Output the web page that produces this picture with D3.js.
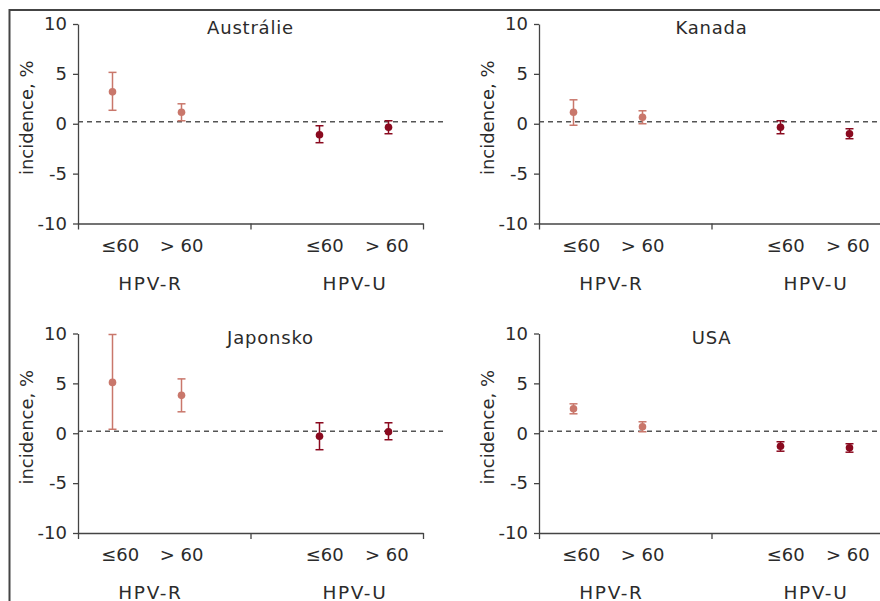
<!DOCTYPE html>
<html>
<head>
<meta charset="utf-8">
<style>
  body { margin: 0; background: #fff; }
  svg text { font-family: "DejaVu Sans", "Noto Sans", sans-serif; fill: #2b2b2b; }
</style>
</head>
<body>
<div id="chart"></div>

<script src="https://d3js.org/d3.v7.min.js"></script>
<script>
// data
var countries = ["Austrálie", "Kanada", "Japonsko", "USA"];
var ageLabels = ["≤60", "> 60", "≤60", "> 60"];
var hpvGroups = ["HPV-R", "HPV-U"];
var hpvOfPoint = ["HPV-R", "HPV-R", "HPV-U", "HPV-U"];
var yTicks = [-10, -5, 0, 5, 10];
var refValue = 0.2;

// incidence, % (mean, lower, upper) for ≤60 R, >60 R, ≤60 U, >60 U
var meanVals = [
  [3.2, 1.15, -1.1, -0.35],
  [1.15, 0.65, -0.35, -1.0],
  [5.1, 3.8, -0.3, 0.15],
  [2.45, 0.65, -1.3, -1.45]
];
var lowerVals = [
  [1.35, 0.3, -1.9, -1.0],
  [-0.15, 0.0, -1.0, -1.5],
  [0.4, 2.15, -1.65, -0.65],
  [1.95, 0.15, -1.8, -1.9]
];
var upperVals = [
  [5.15, 2.0, -0.2, 0.3],
  [2.4, 1.3, 0.3, -0.5],
  [9.9, 5.45, 1.05, 1.05],
  [2.95, 1.15, -0.85, -1.05]
];

// positions along the category axis (0..4)
var pointPos = [0.4, 1.2, 2.8, 3.6];
var labelPos = [0.49, 1.2, 2.86, 3.58];
var groupPos = [0.84, 3.21];

var colors = {"HPV-R": "#c9776b", "HPV-U": "#8a0a1f"};

var width = 880, height = 601;
var svg = d3.select("#chart").append("svg")
  .attr("width", width)
  .attr("height", height);

// outer frame (runs off the right and bottom edge)
svg.append("rect")
  .attr("x", 9.5).attr("y", 10)
  .attr("width", 900).attr("height", 700)
  .attr("fill", "none")
  .attr("stroke", "#444")
  .attr("stroke-width", 2);

var panels = [
  {left: 78, top: 24, titleDx: 0},
  {left: 539, top: 24, titleDx: 0},
  {left: 78, top: 333.5, titleDx: 20},
  {left: 539, top: 333.5, titleDx: 0}
];
var plotW = 345, plotH = 199.5;

panels.forEach(function(p, i) {
  var g = svg.append("g")
    .attr("transform", "translate(" + p.left + "," + p.top + ")");

  var x = d3.scaleLinear().domain([0, 4]).range([0, plotW]);
  var y = d3.scaleLinear().domain([-10, 10]).range([plotH, 0]);

  // y axis
  var yAx = g.append("g")
    .call(d3.axisLeft(y).tickValues(yTicks).tickSize(5).tickSizeOuter(0).tickPadding(6)
      .tickFormat(function(d) { return String(d); }));
  yAx.selectAll("text").style("font-size", "18px").attr("fill", "#2b2b2b");

  // x axis
  g.append("g")
    .attr("transform", "translate(0," + plotH + ")")
    .call(d3.axisBottom(x).tickValues([0, 2, 4]).tickSize(6).tickSizeOuter(0).tickFormat(""));

  g.selectAll(".domain, .tick line").attr("stroke", "#444").attr("stroke-width", 1.3);

  // age labels
  g.selectAll(".agelab")
    .data(ageLabels)
    .enter().append("text")
      .attr("x", function(d, j) { return x(labelPos[j]); })
      .attr("y", plotH + 28)
      .attr("text-anchor", "middle")
      .style("font-size", "18px")
      .text(function(d) { return d; });

  // hpv group labels
  g.selectAll(".grplab")
    .data(hpvGroups)
    .enter().append("text")
      .attr("x", function(d, j) { return x(groupPos[j]); })
      .attr("y", plotH + 66)
      .attr("text-anchor", "middle")
      .style("font-size", "18.5px")
      .style("letter-spacing", "1.6px")
      .text(function(d) { return d; });

  // y axis title
  g.append("text")
    .attr("transform", "translate(-45," + (plotH / 2 - 6) + ") rotate(-90)")
    .attr("text-anchor", "middle")
    .style("font-size", "18px")
    .text("incidence, %");

  // panel title
  g.append("text")
    .attr("x", x(2) + p.titleDx)
    .attr("y", 10)
    .attr("text-anchor", "middle")
    .style("font-size", "18px")
    .style("letter-spacing", "0.8px")
    .text(countries[i]);

  // reference line
  g.append("line")
    .attr("x1", 0).attr("x2", plotW + 20)
    .attr("y1", y(refValue)).attr("y2", y(refValue))
    .attr("stroke", "#555")
    .attr("stroke-width", 1.3)
    .attr("stroke-dasharray", "5,4");

  var pts = meanVals[i].map(function(m, j) {
    return {pos: pointPos[j], mean: m, lo: lowerVals[i][j], hi: upperVals[i][j], grp: hpvOfPoint[j]};
  });

  var pg = g.selectAll(".pt")
    .data(pts)
    .enter().append("g");

  pg.append("line")
    .attr("x1", function(d) { return x(d.pos); })
    .attr("x2", function(d) { return x(d.pos); })
    .attr("y1", function(d) { return y(d.lo); })
    .attr("y2", function(d) { return y(d.hi); })
    .attr("stroke", function(d) { return colors[d.grp]; })
    .attr("stroke-width", 1.5);

  ["lo", "hi"].forEach(function(k) {
    pg.append("line")
      .attr("x1", function(d) { return x(d.pos) - 4; })
      .attr("x2", function(d) { return x(d.pos) + 4; })
      .attr("y1", function(d) { return y(d[k]); })
      .attr("y2", function(d) { return y(d[k]); })
      .attr("stroke", function(d) { return colors[d.grp]; })
      .attr("stroke-width", 1.5);
  });

  pg.append("circle")
    .attr("cx", function(d) { return x(d.pos); })
    .attr("cy", function(d) { return y(d.mean); })
    .attr("r", 3.8)
    .attr("fill", function(d) { return colors[d.grp]; });
});
</script>
</body>
</html>
